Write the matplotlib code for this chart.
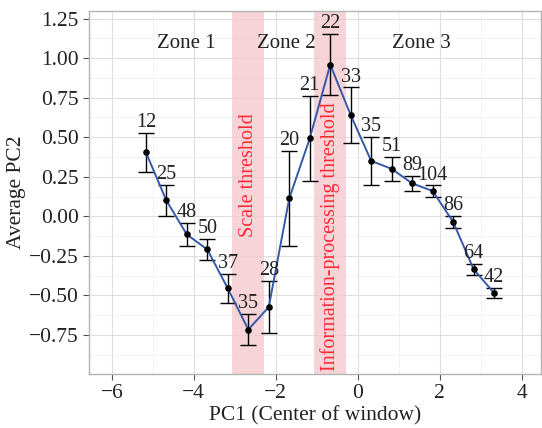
import matplotlib.pyplot as plt
import matplotlib.ticker as mticker

# PC1 window centres, mean PC2, half-width of error bar, n per window
pc1 = [-5.17, -4.67, -4.17, -3.67, -3.17, -2.67, -2.17, -1.67, -1.17,
       -0.67, -0.17, 0.33, 0.83, 1.33, 1.83, 2.33, 2.83, 3.33]
pc2 = [0.405, 0.100, -0.115, -0.210, -0.456, -0.716, -0.574, 0.113, 0.492,
       0.959, 0.640, 0.350, 0.300, 0.208, 0.160, -0.035, -0.335, -0.485]
err = [0.122, 0.098, 0.075, 0.068, 0.090, 0.100, 0.166, 0.299, 0.267,
       0.194, 0.175, 0.150, 0.074, 0.046, 0.036, 0.036, 0.035, 0.032]
counts = [12, 25, 48, 50, 37, 35, 28, 20, 21, 22, 33, 35, 51, 89, 104, 86, 64, 42]

zones = ["Zone 1", "Zone 2", "Zone 3"]
zone_x = [-4.18, -1.75, 1.55]
thresholds = ["Scale threshold", "Information-processing threshold"]
band_lo = [-3.06, -1.07]
band_hi = [-2.28, -0.28]
label_y = [0.26, -0.13]

plt.rcParams['font.family'] = ['Liberation Serif', 'DejaVu Serif']

fig = plt.figure(figsize=(5.42, 4.28), dpi=100)
ax = fig.add_axes([0.1648, 0.127, 0.833, 0.848])

for lo, hi, name, ly in zip(band_lo, band_hi, thresholds, label_y):
    ax.axvspan(lo, hi, color='#f4c6cc', alpha=0.75, lw=0, zorder=1)
    ax.text((lo + hi) / 2, ly, name, rotation=90, ha='center', va='center',
            color='#ff2a35', fontsize=14.5, zorder=2)

ax.errorbar(pc1, pc2, yerr=err, fmt='none', ecolor='black', elinewidth=1,
            capsize=5.5, capthick=1, zorder=3)
ax.plot(pc1, pc2, color='#3558a8', lw=1.4, zorder=4)
ax.scatter(pc1, pc2, s=14, color='black', zorder=5)

for x, y, e, n in zip(pc1, pc2, err, counts):
    ax.text(x, y + e + 0.005, str(n), ha='center', va='bottom', fontsize=14.5,
            color='#222222', zorder=6)

for name, zx in zip(zones, zone_x):
    ax.text(zx, 1.09, name, ha='center', va='center', fontsize=15, color='#222222')

ax.set_xlim(-6.55, 4.47)
ax.set_ylim(-0.995, 1.30)
ax.xaxis.set_major_locator(mticker.MultipleLocator(2))
ax.xaxis.set_minor_locator(mticker.MultipleLocator(1))
ax.yaxis.set_major_locator(mticker.MultipleLocator(0.25))
ax.yaxis.set_minor_locator(mticker.MultipleLocator(0.125))
ax.xaxis.set_major_formatter(mticker.FuncFormatter(lambda v, p: f"{v:.0f}".replace('-', '\u2212')))
ax.yaxis.set_major_formatter(mticker.FuncFormatter(lambda v, p: f"{v:.2f}".replace('-', '\u2212')))

ax.grid(which='major', color='#dedede', lw=0.8, zorder=0)
ax.grid(which='minor', color='#f0f0f0', lw=0.6, zorder=0)
ax.set_axisbelow(True)
for s in ax.spines.values():
    s.set_color('#b3b3b3')
    s.set_linewidth(1.0)
ax.tick_params(which='major', length=4, color='#555555', labelsize=15.5,
               labelcolor='#222222', width=0.8)
ax.tick_params(which='minor', length=0)

ax.set_xlabel('PC1 (Center of window)', fontsize=15.5, color='#222222', labelpad=2)
ax.set_ylabel('Average PC2', fontsize=15.5, color='#222222', labelpad=2)

fig.savefig('out.png', dpi=100)
